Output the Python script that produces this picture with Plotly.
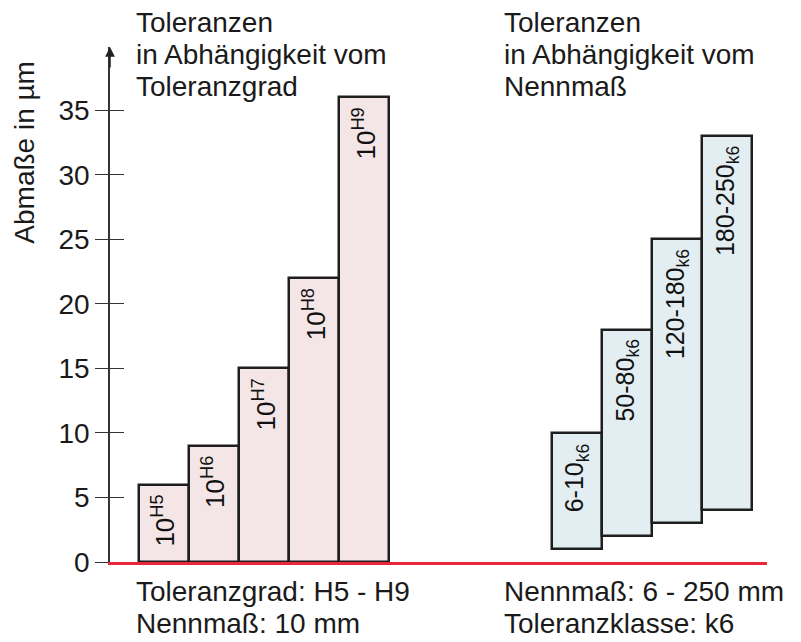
import plotly.graph_objects as go

# ---- data ----
grade_labels = ["H5", "H6", "H7", "H8", "H9"]
grade_values = [6, 9, 15, 22, 36]          # Abmaß (µm), base 0, Nennmaß 10 mm

size_labels = ["6-10", "50-80", "120-180", "180-250"]
size_lower = [1, 2, 3, 4]                  # unteres Abmaß k6 (µm)
size_upper = [10, 18, 25, 33]              # oberes Abmaß k6 (µm)

y_ticks = [0, 5, 10, 15, 20, 25, 30, 35]

title_left = ["Toleranzen", "in Abhängigkeit vom", "Toleranzgrad"]
title_right = ["Toleranzen", "in Abhängigkeit vom", "Nennmaß"]
note_left = ["Toleranzgrad: H5 - H9", "Nennmaß: 10 mm"]
note_right = ["Nennmaß: 6 - 250 mm", "Toleranzklasse: k6"]

FONT = "Liberation Sans, Arial, Helvetica, sans-serif"
PINK = "#f4e6e6"
BLUE = "#e3eef2"
EDGE = "#1e1e1e"
TXT = "#1a1a1a"

left_x = [i for i in range(len(grade_labels))]
right_x = [8.25 + i for i in range(len(size_labels))]

fig = go.Figure()
fig.add_trace(go.Bar(
    x=left_x, y=grade_values, base=[0] * len(grade_values), width=1,
    marker=dict(color=PINK, line=dict(color=EDGE, width=2.5)),
    hoverinfo="skip", showlegend=False))
fig.add_trace(go.Bar(
    x=right_x, y=[u - l for u, l in zip(size_upper, size_lower)], base=size_lower, width=1,
    marker=dict(color=BLUE, line=dict(color=EDGE, width=2.5)),
    hoverinfo="skip", showlegend=False))

ann = []
for xv, lab, top in zip(left_x, grade_labels, grade_values):
    ann.append(dict(x=xv, y=top, xref="x", yref="y", text="10<sup>" + lab + "</sup>",
                    textangle=-90, showarrow=False, yanchor="top", xanchor="center",
                    yshift=-8, font=dict(size=26, color="#111", family=FONT)))
for xv, lab, top in zip(right_x, size_labels, size_upper):
    ann.append(dict(x=xv, y=top, xref="x", yref="y", text=lab + "<sub>k6</sub>",
                    textangle=-90, showarrow=False, yanchor="top", xanchor="center",
                    yshift=-8, font=dict(size=25, color="#111", family=FONT)))

tfont = dict(size=28, color=TXT, family=FONT)
title_shifts = [42, 10, -22]
for lines, xp in ((title_left, 0.0365), (title_right, 0.5967)):
    for line, ys in zip(lines, title_shifts):
        ann.append(dict(x=xp, y=1, xref="paper", yref="paper", yshift=ys,
                        xanchor="left", yanchor="top", showarrow=False, font=tfont, text=line))
note_shifts = [-12, -44]
for lines, xp in ((note_left, 0.0365), (note_right, 0.5967)):
    for line, ys in zip(lines, note_shifts):
        ann.append(dict(x=xp, y=0, xref="paper", yref="y", yshift=ys,
                        xanchor="left", yanchor="top", showarrow=False, font=tfont, text=line))

ann += [
    dict(x=-0.1294, y=0.7967, xref="paper", yref="paper", textangle=-90, showarrow=False,
         xanchor="center", yanchor="middle", font=tfont, text="Abmaße in µm"),
    # axis arrow
    dict(x=0, y=1, xref="paper", yref="paper", ax=0, ay=22, text="", showarrow=True,
         arrowhead=2, arrowsize=1.3, arrowwidth=1.5, arrowcolor="#222", standoff=0),
]

fig.update_layout(
    width=801, height=642,
    margin=dict(l=110, r=34, t=47, b=80),
    paper_bgcolor="white", plot_bgcolor="white",
    bargap=0, barmode="overlay",
    font=dict(family=FONT, color=TXT),
    annotations=ann,
    xaxis=dict(range=[-1.08, 12.05], showgrid=False, zeroline=False, showticklabels=False,
               ticks="", showline=True, linecolor="#e8283a", linewidth=2.5,
               layer="below traces"),
    yaxis=dict(range=[0, 39.9], tickvals=y_ticks, ticktext=[str(v) for v in y_ticks],
               ticks="outside", ticklen=13, tickwidth=1.3, tickcolor="#333",
               showgrid=False, zeroline=False, showline=True, linecolor="#333", linewidth=1.5,
               tickfont=dict(size=28, color=TXT, family=FONT), ticklabelstandoff=0),
    yaxis2=dict(range=[0, 39.9], overlaying="y", side="left", anchor="x",
                tickvals=y_ticks[1:], ticks="inside", ticklen=14, tickwidth=1.3,
                tickcolor="#333", showticklabels=False, showgrid=False, zeroline=False,
                showline=False),
)
# invisible trace to activate yaxis2
fig.add_trace(go.Scatter(x=[None], y=[None], yaxis="y2", showlegend=False, hoverinfo="skip"))

fig.write_html("out.html", config={"displayModeBar": False},
               post_script="document.body.style.margin='0';document.body.style.overflow='hidden';")
